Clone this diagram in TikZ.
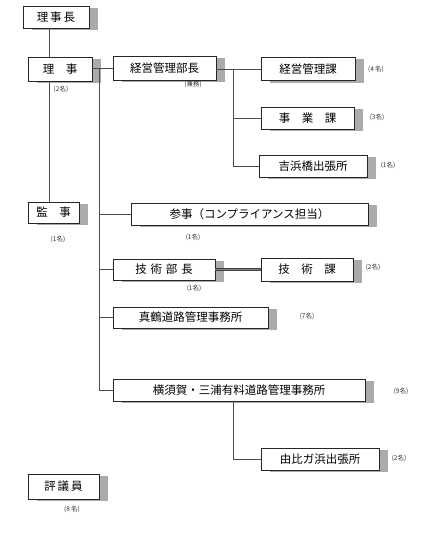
\documentclass[tikz,border=0pt]{standalone}
\usepackage{fontspec}
\setmainfont{Noto Sans CJK JP}
\usetikzlibrary{shadows}
\begin{document}
\begin{tikzpicture}[x=1pt,y=-1pt,
  box/.style={draw=black!85, fill=white, line width=0.8pt, inner sep=0pt, anchor=center,
    font=\fontsize{11.5}{12}\selectfont,
    general shadow={fill=black!33, shadow xshift=9pt, shadow yshift=-2pt}},
  lab/.style={font=\fontsize{6.5}{7}\selectfont, text=black!80, inner sep=0pt},
  conn/.style={draw=black!70, line width=0.8pt}]
\useasboundingbox (0,0) rectangle (426,535);
% boxes
\node[box, minimum width=66pt, minimum height=22pt] (rijicho) at (56,17) {理\,事\,長};
\node[box, minimum width=64pt, minimum height=24pt] (riji) at (60,69) {理　事};
\node[box, minimum width=103pt, minimum height=24pt] (bucho) at (164.5,68) {経営管理部長};
\node[box, minimum width=94pt, minimum height=23pt] (keieika) at (308,69) {経営管理課};
\node[box, minimum width=93pt, minimum height=22pt] (jigyoka) at (307.5,118) {事　業　課};
\node[box, minimum width=108pt, minimum height=22pt] (yoshi) at (313,166) {吉浜橋出張所};
\node[box, minimum width=51pt, minimum height=21pt] (kanji) at (53.5,212.5) {監　事};
\node[box, minimum width=237pt, minimum height=22pt] (sanji) at (249.5,214) {参事（コンプライアンス担当）};
\node[box, minimum width=102pt, minimum height=21pt] (gbucho) at (164,269.5) {技\,\,術\,\,部\,\,長};
\node[box, minimum width=92pt, minimum height=23pt] (gka) at (307,269.5) {技　術　課};
\node[box, minimum width=155pt, minimum height=21pt] (mana) at (190.5,317.5) {真鶴道路管理事務所};
\node[box, minimum width=252pt, minimum height=22pt] (yoko) at (239,390) {横須賀・三浦有料道路管理事務所};
\node[box, minimum width=118pt, minimum height=22pt] (yui) at (320,459) {由比ガ浜出張所};
\node[box, minimum width=71pt, minimum height=25pt] (hyogi) at (63.5,486.5) {評\,議\,員};
% labels
\node[lab] (l1) at (61,89) {(2名)};
\node[lab] (l2) at (193,84) {(兼務)};
\node[lab] (l3) at (376,69) {(4\,名)};
\node[lab] (l4) at (377,117) {(3名)};
\node[lab] (l5) at (388,165) {(1名)};
\node[lab] (l6) at (58,239) {(1名)};
\node[lab] (l7) at (193,237) {(1名)};
\node[lab] (l8) at (194,288) {(1名)};
\node[lab] (l9) at (373,267) {(2名)};
\node[lab] (l10) at (307,316) {(7名)};
\node[lab] (l11) at (401,391) {(9名)};
\node[lab] (l12) at (399,458) {(2名)};
\node[lab] (l13) at (72,509) {(8\,名)};
% helper coordinates
\coordinate (xa) at (49,0);
\coordinate (xt) at (99,0);
\coordinate (xs) at (233,0);
\coordinate (ttop) at (99,68);
% connectors
\draw[conn] (xa |- rijicho.south) -- (xa |- riji.north);
\draw[conn] (xa |- riji.south) -- (xa |- kanji.north);
\draw[conn] (riji.east |- bucho.west) -- (bucho.west);
\draw[conn] (ttop) -- (xt |- yoko.west) -- (yoko.west);
\draw[conn] (xt |- sanji.west) -- (sanji.west);
\draw[conn] (xt |- gbucho.west) -- (gbucho.west);
\draw[conn] (xt |- mana.west) -- (mana.west);
\draw[conn] (bucho.east |- keieika.west) -- (keieika.west);
\draw[conn] (xs |- keieika.west) -- (xs |- yoshi.west) -- (yoshi.west);
\draw[conn] (xs |- jigyoka.west) -- (jigyoka.west);
\draw[draw=black!75, double=black!50, double distance=1pt, line width=0.7pt] (gbucho.east) -- (gka.west);
\draw[conn] (xs |- yoko.south) -- (xs |- yui.west) -- (yui.west);
\end{tikzpicture}
\end{document}
